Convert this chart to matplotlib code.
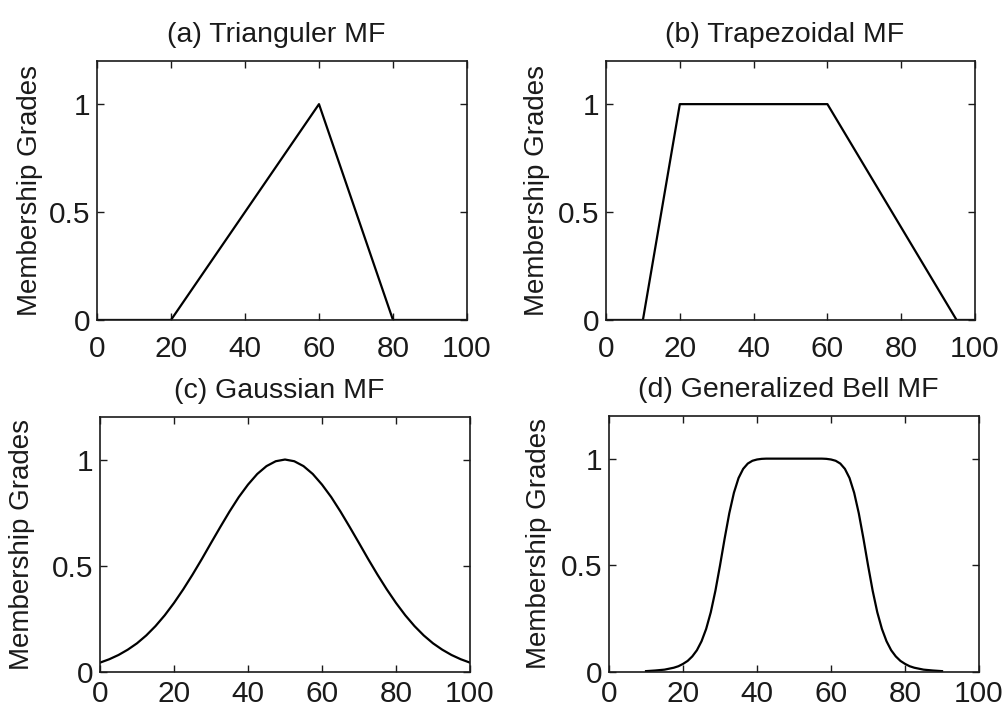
import matplotlib
matplotlib.use("Agg")
import matplotlib.pyplot as plt

plt.rcParams['font.family'] = ['Liberation Sans', 'DejaVu Sans']

# (a) triangular MF breakpoints
tri_x = [0, 20, 60, 80, 100]
tri_y = [0, 0, 1, 0, 0]

# (b) trapezoidal MF breakpoints
trap_x = [0, 10, 20, 60, 95, 100]
trap_y = [0, 0, 1, 1, 0, 0]

# (c) gaussian MF, read every 2.5
gauss_x = [0, 2.5, 5, 7.5, 10, 12.5, 15, 17.5, 20, 22.5, 25, 27.5, 30, 32.5, 35, 37.5, 40,
           42.5, 45, 47.5, 50, 52.5, 55, 57.5, 60, 62.5, 65, 67.5, 70, 72.5, 75, 77.5, 80,
           82.5, 85, 87.5, 90, 92.5, 95, 97.5, 100]
gauss_y = [0.044, 0.060, 0.080, 0.105, 0.135, 0.172, 0.216, 0.267, 0.325, 0.389, 0.458,
           0.531, 0.607, 0.682, 0.755, 0.823, 0.882, 0.932, 0.969, 0.992, 1.0,
           0.992, 0.969, 0.932, 0.882, 0.823, 0.755, 0.682, 0.607, 0.531, 0.458,
           0.389, 0.325, 0.267, 0.216, 0.172, 0.135, 0.105, 0.080, 0.060, 0.044]

# (d) generalized bell MF, read finer on the steep flanks
bell_x = [10, 12.5, 15, 17.5, 18.75, 20, 21.25, 22.5, 23.75, 25, 26.25, 27.5, 28.75, 30,
          31.25, 32.5, 33.75, 35, 36.25, 37.5, 38.75, 40, 41.25, 42.5, 45, 47.5, 50,
          52.5, 55, 57.5, 58.75, 60, 61.25, 62.5, 63.75, 65, 66.25, 67.5, 68.75, 70,
          71.25, 72.5, 73.75, 75, 76.25, 77.5, 78.75, 80, 81.25, 82.5, 85, 87.5, 90]
bell_y = [0.004, 0.007, 0.011, 0.020, 0.027, 0.038, 0.052, 0.073, 0.102, 0.144, 0.202,
          0.280, 0.381, 0.5, 0.626, 0.744, 0.840, 0.909, 0.952, 0.977, 0.990, 0.996,
          0.999, 1.0, 1.0, 1.0, 1.0,
          1.0, 1.0, 1.0, 0.999, 0.996, 0.990, 0.977, 0.952, 0.909, 0.840, 0.744, 0.626,
          0.5, 0.381, 0.280, 0.202, 0.144, 0.102, 0.073, 0.052, 0.038, 0.027, 0.020,
          0.011, 0.007, 0.004]

titles = ['(a) Trianguler MF', '(b) Trapezoidal MF', '(c) Gaussian MF', '(d) Generalized Bell MF']
xticks = [0, 20, 40, 60, 80, 100]
yticks = [0, 0.5, 1]
ytick_labels = ['0', '0.5', '1']

# axes rectangles in figure fraction
rects = [[0.0964, 0.5487, 0.3678, 0.3653],
         [0.6024, 0.5487, 0.3668, 0.3653],
         [0.0994, 0.0522, 0.3678, 0.3596],
         [0.6054, 0.0522, 0.3678, 0.3611]]
ylab_x = [-0.146, -0.152, -0.176, -0.154]
xpads = [11, 11, 6, 6]

data = [(tri_x, tri_y), (trap_x, trap_y), (gauss_x, gauss_y), (bell_x, bell_y)]

fig = plt.figure(figsize=(10.06, 7.09), dpi=100)
ink = '#1a1a1a'
for i in range(4):
    ax = fig.add_axes(rects[i])
    x, y = data[i]
    ax.plot(x, y, color='black', lw=1.6)
    ax.set_xlim(0, 100)
    ax.set_ylim(0, 1.2)
    ax.set_xticks(xticks)
    ax.set_yticks(yticks)
    ax.set_yticklabels(ytick_labels)
    ax.tick_params(direction='in', top=True, right=True, length=5, width=1,
                   labelsize=21.5, colors=ink)
    ax.tick_params(axis='x', pad=xpads[i])
    ax.tick_params(axis='y', pad=5)
    for s in ax.spines.values():
        s.set_linewidth(1.2)
        s.set_color(ink)
    ax.set_title(titles[i], fontsize=20.5, pad=14, color=ink, x=0.485)
    ax.set_ylabel('Membership Grades', fontsize=20, color=ink)
    ax.yaxis.set_label_coords(ylab_x[i], 0.5)

fig.savefig('out.png', dpi=100)
